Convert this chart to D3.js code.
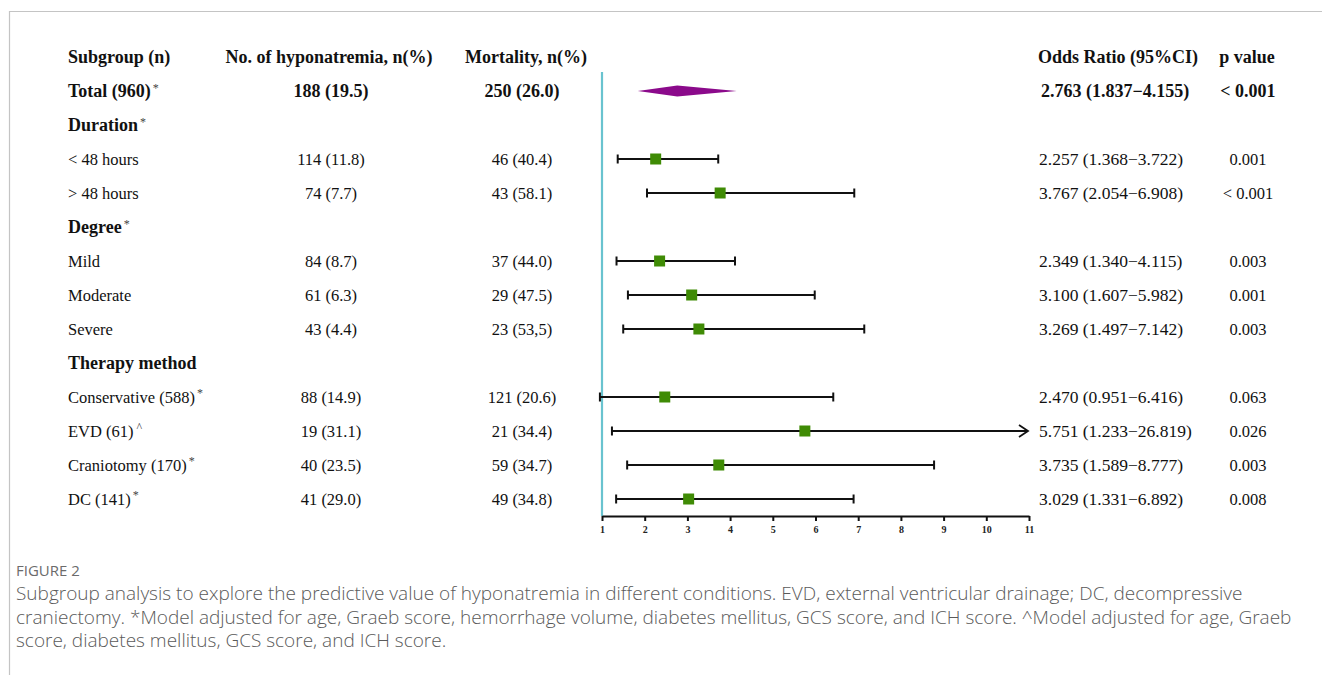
<!DOCTYPE html>
<html>
<head>
<meta charset="utf-8">
<script src="https://cdn.jsdelivr.net/npm/d3@7"></script>
<style>
  html, body { margin: 0; padding: 0; background: #fff; }
  svg { display: block; }
</style>
</head>
<body>
<svg id="chart" width="1322" height="675"></svg>
<script>
// Row labels (subgroups and group headings)
const subgroups = ["Total (960)", "Duration", "< 48 hours", "> 48 hours", "Degree", "Mild", "Moderate", "Severe",
  "Therapy method", "Conservative (588)", "EVD (61)", "Craniotomy (170)", "DC (141)"];
const marks = ["*", "*", "", "", "*", "", "", "", "", "*", "^", "*", "*"];
const rowType = ["total", "group", "item", "item", "group", "item", "item", "item", "group", "item", "item", "item", "item"];
const hyponatremia = ["188 (19.5)", "", "114 (11.8)", "74 (7.7)", "", "84 (8.7)", "61 (6.3)", "43 (4.4)", "",
  "88 (14.9)", "19 (31.1)", "40 (23.5)", "41 (29.0)"];
const mortality = ["250 (26.0)", "", "46 (40.4)", "43 (58.1)", "", "37 (44.0)", "29 (47.5)", "23 (53,5)", "",
  "121 (20.6)", "21 (34.4)", "59 (34.7)", "49 (34.8)"];
const oddsRatio = [2.763, null, 2.257, 3.767, null, 2.349, 3.100, 3.269, null, 2.470, 5.751, 3.735, 3.029];
const ciLow = [1.837, null, 1.368, 2.054, null, 1.340, 1.607, 1.497, null, 0.951, 1.233, 1.589, 1.331];
const ciHigh = [4.155, null, 3.722, 6.908, null, 4.115, 5.982, 7.142, null, 6.416, 26.819, 8.777, 6.892];
const pValues = ["< 0.001", "", "0.001", "< 0.001", "", "0.003", "0.001", "0.003", "", "0.063", "0.026", "0.003", "0.008"];
const columnHeads = ["Subgroup (n)", "No. of hyponatremia, n(%)", "Mortality, n(%)", "Odds Ratio (95%CI)", "p value"];
const axisTicks = [1, 2, 3, 4, 5, 6, 7, 8, 9, 10, 11];
const captionTitle = "FIGURE 2";
const captionLines = [
  "Subgroup analysis to explore the predictive value of hyponatremia in different conditions. EVD, external ventricular drainage; DC, decompressive",
  "craniectomy. *Model adjusted for age, Graeb score, hemorrhage volume, diabetes mellitus, GCS score, and ICH score. ^Model adjusted for age, Graeb",
  "score, diabetes mellitus, GCS score, and ICH score."
];

const svg = d3.select("#chart");
const serif = "'Liberation Serif', 'Times New Roman', serif";
const sans = "'Open Sans', 'Noto Sans', sans-serif";

// Frame around the figure
svg.append("path")
  .attr("d", "M9.5,675 L9.5,11.5 L1322,11.5")
  .attr("fill", "none").attr("stroke", "#c4c4c4").attr("stroke-width", 1.2);

// Scales
const x = d3.scaleLinear().domain([1, 11]).range([602, 1029]);
const rowIdx = d3.range(subgroups.length + 1); // 0 = header row
const y = d3.scalePoint().domain(rowIdx).range([57, 499]);

const colX = { label: 68, hypo: 331, mort: 522, or: 1039, p: 1248 };

// Column headings
const headAnchors = ["start", "middle", "middle", "start", "middle"];
const headX = [68, 329, 526, 1038, 1247];
columnHeads.forEach((t, i) => {
  svg.append("text")
    .attr("x", headX[i]).attr("y", y(0)).attr("dy", "0.35em")
    .attr("text-anchor", headAnchors[i])
    .attr("font-family", serif).attr("font-weight", "bold").attr("font-size", 18)
    .attr("fill", "#111").text(t);
});

// Table rows
subgroups.forEach((name, i) => {
  const yy = y(i + 1);
  const bold = rowType[i] !== "item";
  const fs = bold ? 18 : 16.5;
  const lab = svg.append("text")
    .attr("x", colX.label).attr("y", yy).attr("dy", "0.35em")
    .attr("font-family", serif).attr("font-size", fs)
    .attr("font-weight", bold ? "bold" : "normal")
    .attr("fill", "#111");
  lab.append("tspan").text(name);
  if (marks[i]) {
    lab.append("tspan")
      .attr("dx", marks[i] === "^" ? 3 : 2).attr("dy", "-0.45em")
      .attr("font-size", 12).attr("font-weight", "normal").attr("fill", "#444")
      .text(marks[i]);
  }
  const cellFont = (sel, size) => sel.attr("font-family", serif).attr("font-size", size || fs)
    .attr("font-weight", bold ? "bold" : "normal").attr("fill", "#111").attr("dy", "0.35em").attr("y", yy);
  if (hyponatremia[i]) svg.append("text").call(cellFont).attr("x", colX.hypo).attr("text-anchor", "middle").text(hyponatremia[i]);
  if (mortality[i]) svg.append("text").call(cellFont).attr("x", colX.mort).attr("text-anchor", "middle").text(mortality[i]);
  if (oddsRatio[i] != null) {
    const t = `${oddsRatio[i].toFixed(3)} (${ciLow[i].toFixed(3)}\u2212${ciHigh[i].toFixed(3)})`;
    svg.append("text").call(cellFont, bold ? 18 : 17.5).attr("x", colX.or + (bold ? 2 : 0)).attr("text-anchor", "start").text(t);
  }
  if (pValues[i]) svg.append("text").call(cellFont).attr("x", colX.p).attr("text-anchor", "middle").text(pValues[i]);
});

// Reference line at OR = 1
svg.append("line")
  .attr("x1", x(1)).attr("x2", x(1))
  .attr("y1", 72).attr("y2", 516)
  .attr("stroke", "#69c3cf").attr("stroke-width", 2.2);

// Confidence intervals and point estimates
const xMax = x.domain()[1];
const green = "#3f8b05";
subgroups.forEach((name, i) => {
  if (oddsRatio[i] == null) return;
  const yy = y(i + 1);
  if (rowType[i] === "total") {
    svg.append("path")
      .attr("d", `M${x(ciLow[i])},${yy} L${x(oddsRatio[i])},${yy - 5.5} L${x(ciHigh[i])},${yy} L${x(oddsRatio[i])},${yy + 5.5} Z`)
      .attr("fill", "#8b0a8b");
    return;
  }
  const clipped = ciHigh[i] > xMax;
  const xr = clipped ? x(xMax) - 2 : x(ciHigh[i]);
  svg.append("line")
    .attr("x1", x(ciLow[i])).attr("x2", xr)
    .attr("y1", yy).attr("y2", yy)
    .attr("stroke", "#111").attr("stroke-width", 2);
  svg.append("line")
    .attr("x1", x(ciLow[i])).attr("x2", x(ciLow[i]))
    .attr("y1", yy - 4.5).attr("y2", yy + 4.5)
    .attr("stroke", "#111").attr("stroke-width", 2);
  if (clipped) {
    const xe = x(xMax) - 1;
    svg.append("path")
      .attr("d", `M${xe - 9},${yy - 6} L${xe},${yy} L${xe - 9},${yy + 6}`)
      .attr("fill", "none").attr("stroke", "#111").attr("stroke-width", 1.8);
  } else {
    svg.append("line")
      .attr("x1", xr).attr("x2", xr)
      .attr("y1", yy - 4.5).attr("y2", yy + 4.5)
      .attr("stroke", "#111").attr("stroke-width", 2);
  }
  const s = 11;
  svg.append("rect")
    .attr("x", x(oddsRatio[i]) - s / 2).attr("y", yy - s / 2)
    .attr("width", s).attr("height", s)
    .attr("fill", green);
});

// Horizontal axis
const axis = svg.append("g")
  .attr("transform", "translate(0,516)")
  .call(d3.axisBottom(x).tickValues(axisTicks).tickSize(5).tickSizeOuter(0).tickPadding(5).tickFormat(d3.format("d")));
axis.select(".domain").attr("stroke", "#111").attr("stroke-width", 2);
axis.selectAll(".tick line").attr("stroke", "#111").attr("stroke-width", 2);
axis.selectAll(".tick text")
  .attr("font-family", serif).attr("font-size", 10).attr("font-weight", "bold").attr("fill", "#222");

// Caption
svg.append("text")
  .attr("x", 16).attr("y", 576)
  .attr("font-family", sans).attr("font-size", 15).attr("fill", "#6b6b6b")
  .text(captionTitle);
captionLines.forEach((t, i) => {
  svg.append("text")
    .attr("x", 16).attr("y", 600 + i * 23.5)
    .attr("font-family", sans).attr("font-size", 19).attr("fill", "#5a5a5a")
    .attr("font-weight", 300)
    .text(t);
});
</script>
</body>
</html>
